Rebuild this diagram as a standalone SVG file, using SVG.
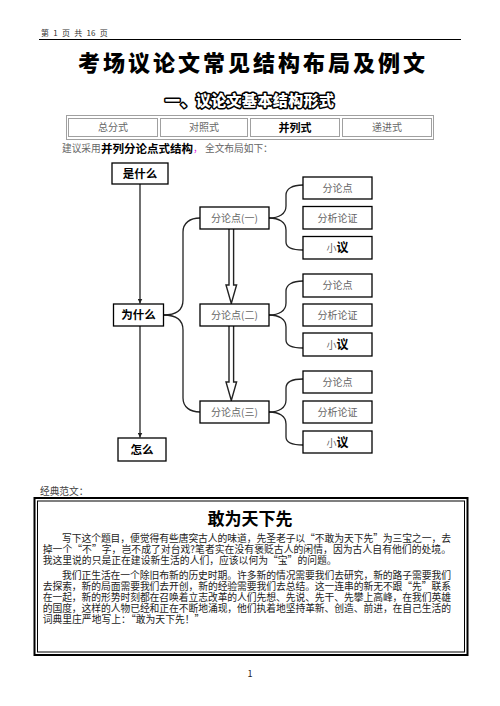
<svg xmlns="http://www.w3.org/2000/svg" width="500" height="706" viewBox="0 0 500 706">
<style>
  text { font-family: "Noto Sans CJK SC", "Noto Sans", sans-serif; }
  .box { fill: #fff; stroke: #000; stroke-width: 1.3; }
  .cell { fill: #fff; stroke: #a0a0a0; stroke-width: 1; }
  .g { fill: #666; font-size: 10px; }
  .bk { fill: #000; font-weight: 700; }
  .body { fill: #222; font-size: 9.8px; }
  .con { fill: none; stroke: #222; stroke-width: 1.3; }
  .hollow { fill: #fff; stroke: #222; stroke-width: 1.4; }
</style>
<defs>
  <marker id="ah" viewBox="0 0 10 10" refX="10" refY="5" markerWidth="5" markerHeight="5" orient="auto" markerUnits="userSpaceOnUse">
    <path d="M0,0 L10,5 L0,10 z" fill="#222"/>
  </marker>
</defs>
<rect width="500" height="706" fill="#fff"/>

<!-- header -->
<text x="41" y="35.7" font-size="8" fill="#333" xml:space="preserve" word-spacing="2.5">第 1 页 共 16 页</text>
<line x1="39" y1="39.5" x2="461" y2="39.5" stroke="#000" stroke-width="1"/>
<text x="78" y="71" font-size="22" font-weight="900" letter-spacing="3" fill="#000">考场议论文常见结构布局及例文</text>
<text x="165" y="105.7" font-size="15" font-weight="900" letter-spacing="0.4" fill="#fff" stroke="#000" stroke-width="3" paint-order="stroke" stroke-linejoin="round">一、议论文基本结构形式</text>

<!-- table -->
<g id="table">
  <rect x="66.5" y="115.5" width="367" height="24" fill="#fff" stroke="#a0a0a0" stroke-width="1"/>
  <rect class="cell" x="68.5" y="118.5" width="89" height="18"/>
  <rect class="cell" x="160.5" y="118.5" width="87" height="18"/>
  <rect class="cell" x="250.5" y="118.5" width="89" height="18"/>
  <rect class="cell" x="342.5" y="118.5" width="89" height="18"/>
  <text class="g" x="113" y="131.3" text-anchor="middle">总分式</text>
  <text class="g" x="204" y="131.3" text-anchor="middle">对照式</text>
  <text class="bk" x="295" y="131.8" font-size="11" text-anchor="middle">并列式</text>
  <text class="g" x="387" y="131.3" text-anchor="middle">递进式</text>
</g>
<text x="62" y="152.4" font-size="9.7" fill="#666">建议采用</text>
<text x="101" y="153" font-size="11.5" font-weight="700" fill="#000">并列分论点式结构</text>
<text x="193" y="152.4" font-size="9.7" fill="#e020e0">，</text>
<text x="205" y="152.4" font-size="9.7" fill="#666">全文布局如下：</text>

<!-- connectors -->
<g id="connectors">
  <line class="con" x1="140" y1="184" x2="140" y2="303.5" marker-end="url(#ah)"/>
  <line class="con" x1="140" y1="326" x2="140" y2="437.5" marker-end="url(#ah)"/>
  <path class="con" d="M163.5,315 C176,315 183,310 183,300 V232 C183,223 190,218 200,218"/>
  <path class="con" d="M163.5,315 C176,315 183,320 183,330 V398 C183,407 190,412 200,412"/>
  <path class="con" d="M269,218 C279,218 286,214 286,206 V195 C286,189 292,185 303,185"/>
  <path class="con" d="M269,218 C279,218 286,222 286,230 V242 C286,247 292,250 303,250"/>
  <path class="con" d="M269,315 C279,315 286,311 286,303 V291 C286,285 292,281 303,281"/>
  <path class="con" d="M269,315 C279,315 286,319 286,327 V340 C286,345 292,348 303,348"/>
  <path class="con" d="M269,412 C279,412 286,408 286,400 V388 C286,382 292,379 303,379"/>
  <path class="con" d="M269,412 C279,412 286,416 286,424 V437 C286,442 292,445 303,445"/>
  <path class="hollow" d="M229,229 V285 H226 L231.3,303.5 L236.6,285 H233.6 V229"/>
  <path class="hollow" d="M229,326 V382 H226 L231.3,400.5 L236.6,382 H233.6 V326"/>
</g>

<!-- left column -->
<g id="n-shi">
  <rect class="box" x="112" y="163" width="56" height="21"/>
  <text class="bk" x="140" y="178" font-size="11.5" text-anchor="middle">是什么</text>
</g>
<g id="n-wei">
  <rect class="box" x="113.5" y="304" width="50" height="22"/>
  <text class="bk" x="138.5" y="319.3" font-size="11.5" text-anchor="middle">为什么</text>
</g>
<g id="n-zen">
  <rect class="box" x="118" y="438" width="48" height="23"/>
  <text class="bk" x="142" y="453.8" font-size="11.5" text-anchor="middle">怎么</text>
</g>

<!-- middle column -->
<g id="n-f1">
  <rect class="box" x="200" y="207" width="69" height="22"/>
  <text class="g" x="234.5" y="221.8" font-size="10.3" text-anchor="middle">分论点(一)</text>
</g>
<g id="n-f2">
  <rect class="box" x="200" y="304" width="69" height="22"/>
  <text class="g" x="234.5" y="318.8" font-size="10.3" text-anchor="middle">分论点(二)</text>
</g>
<g id="n-f3">
  <rect class="box" x="200" y="401" width="69" height="22"/>
  <text class="g" x="234.5" y="415.8" font-size="10.3" text-anchor="middle">分论点(三)</text>
</g>

<!-- right column group 1 -->
<g id="n-a1">
  <rect class="box" x="303" y="177" width="69" height="22"/>
  <text class="g" x="337.5" y="191.8" text-anchor="middle">分论点</text>
</g>
<g id="n-b1">
  <rect class="box" x="303" y="206.5" width="69" height="22.5"/>
  <text class="g" x="337.5" y="221.6" text-anchor="middle">分析论证</text>
</g>
<g id="n-c1">
  <rect class="box" x="303" y="236.5" width="69" height="22.5"/>
  <text x="337.5" y="252" text-anchor="middle"><tspan fill="#666" font-size="10">小</tspan><tspan fill="#000" font-weight="700" font-size="12">议</tspan></text>
</g>
<!-- group 2 -->
<g id="n-a2">
  <rect class="box" x="303" y="274" width="69" height="23"/>
  <text class="g" x="337.5" y="289.3" text-anchor="middle">分论点</text>
</g>
<g id="n-b2">
  <rect class="box" x="303" y="304" width="69" height="22"/>
  <text class="g" x="337.5" y="318.8" text-anchor="middle">分析论证</text>
</g>
<g id="n-c2">
  <rect class="box" x="303" y="333" width="69" height="23"/>
  <text x="337.5" y="349" text-anchor="middle"><tspan fill="#666" font-size="10">小</tspan><tspan fill="#000" font-weight="700" font-size="12">议</tspan></text>
</g>
<!-- group 3 -->
<g id="n-a3">
  <rect class="box" x="303" y="371" width="69" height="22"/>
  <text class="g" x="337.5" y="385.8" text-anchor="middle">分论点</text>
</g>
<g id="n-b3">
  <rect class="box" x="303" y="401" width="69" height="22"/>
  <text class="g" x="337.5" y="415.8" text-anchor="middle">分析论证</text>
</g>
<g id="n-c3">
  <rect class="box" x="303" y="431" width="69" height="22"/>
  <text x="337.5" y="446.6" text-anchor="middle"><tspan fill="#666" font-size="10">小</tspan><tspan fill="#000" font-weight="700" font-size="12">议</tspan></text>
</g>

<!-- example essay -->
<text x="40" y="494.5" font-size="9.7" fill="#444">经典范文：</text>
<g id="essay">
  <rect x="34.5" y="498" width="433" height="157" fill="#fff" stroke="#000" stroke-width="2"/>
  <rect x="37.5" y="501" width="427" height="151" fill="none" stroke="#000" stroke-width="1"/>
  <text x="250" y="524.5" font-size="17" font-weight="700" fill="#000" text-anchor="middle">敢为天下先</text>
  <text class="body" x="62" y="541.8" textLength="389" lengthAdjust="spacing">写下这个题目，便觉得有些唐突古人的味道，先圣老子以“不敢为天下先”为三宝之一，去</text>
  <text class="body" x="42.7" y="552.8" textLength="408.3" lengthAdjust="spacing">掉一个“不”字，岂不成了对台戏?笔者实在没有褒贬古人的闲情，因为古人自有他们的处境。</text>
  <text class="body" x="42.7" y="563.8">我这里说的只是正在建设新生活的人们，应该以何为“宝”的问题。</text>
  <text class="body" x="62" y="578.8" textLength="389" lengthAdjust="spacing">我们正生活在一个除旧布新的历史时期。许多新的情况需要我们去研究，新的路子需要我们</text>
  <text class="body" x="42.7" y="589.8" textLength="408.3" lengthAdjust="spacing">去探索，新的局面需要我们去开创，新的经验需要我们去总结。这一连串的新无不跟“先”联系</text>
  <text class="body" x="42.7" y="600.8" textLength="408.3" lengthAdjust="spacing">在一起，新的形势时刻都在召唤着立志改革的人们先想、先说、先干、先攀上高峰，在我们英雄</text>
  <text class="body" x="42.7" y="611.8" textLength="408.3" lengthAdjust="spacing">的国度，这样的人物已经和正在不断地涌现，他们执着地坚持革新、创造、前进，在自己生活的</text>
  <text class="body" x="42.7" y="622.8">词典里庄严地写上：“敢为天下先！”</text>
</g>
<text x="250" y="677" font-size="9" fill="#222" text-anchor="middle">1</text>
</svg>
